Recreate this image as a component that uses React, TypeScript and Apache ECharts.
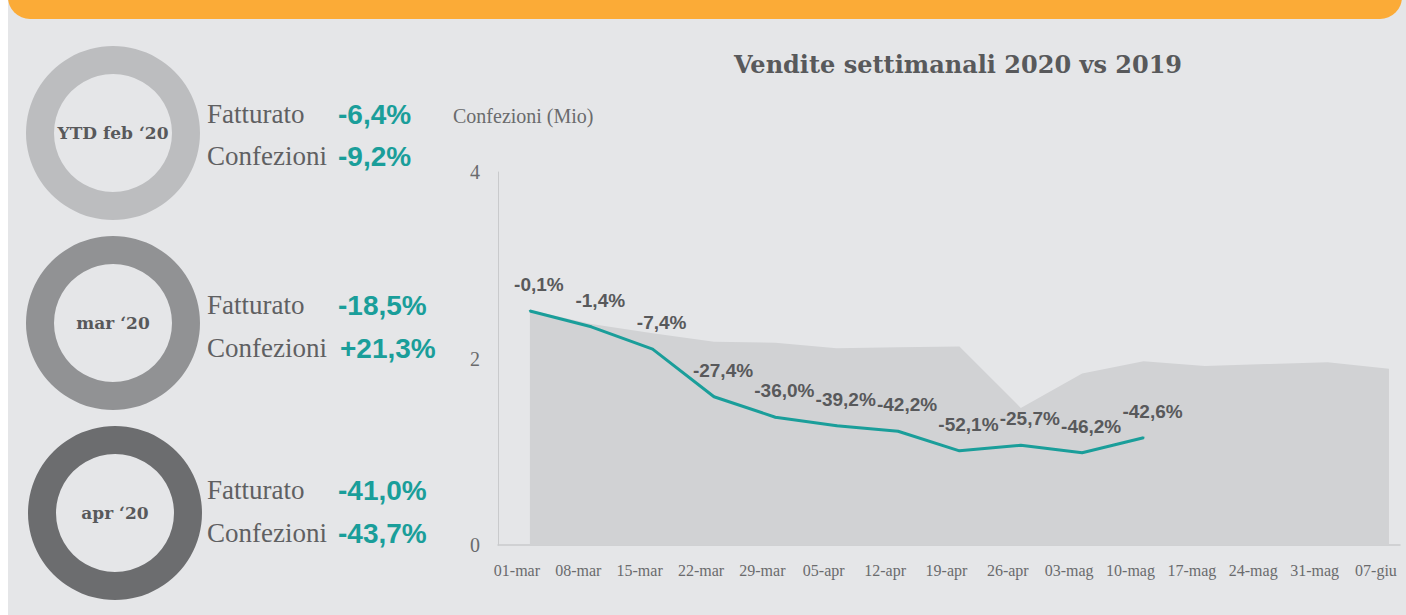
import React, { useEffect, useRef } from "react";
import * as echarts from "echarts";

// ---- data ----
const periods = ["YTD feb \u201820", "mar \u201820", "apr \u201820"];
const fatturatoChange = ["-6,4%", "-18,5%", "-41,0%"];
const confezioniChange = ["-9,2%", "+21,3%", "-43,7%"];
const metricNames = ["Fatturato", "Confezioni"];

const weeks = [
  "01-mar", "08-mar", "15-mar", "22-mar", "29-mar", "05-apr", "12-apr", "19-apr",
  "26-apr", "03-mag", "10-mag", "17-mag", "24-mag", "31-mag", "07-giu",
];
const sales2019 = [2.52, 2.37, 2.27, 2.18, 2.17, 2.11, 2.12, 2.13, 1.47, 1.84, 1.97, 1.92, 1.94, 1.96, 1.89];
const sales2020 = [2.51, 2.34, 2.1, 1.59, 1.37, 1.28, 1.22, 1.01, 1.07, 0.99, 1.15];
const weeklyChange = ["-0,1%", "-1,4%", "-7,4%", "-27,4%", "-36,0%", "-39,2%", "-42,2%", "-52,1%", "-25,7%", "-46,2%", "-42,6%"];
const yTicks = { min: 0, max: 4, interval: 2 };

const chartTitle = "Vendite settimanali 2020 vs 2019";
const yAxisTitle = "Confezioni (Mio)";

// ---- styles / layout ----
const TEAL = "#1a9e9a";
const DARK = "#58595b";
const MID = "#6a6b6d";
const donutColors = ["#bcbdbf", "#919294", "#6c6d6f"];
const donutCenters: [number, number][] = [[113, 133], [113, 323], [115, 513]];
const rowMid = [[114, 156], [305, 348], [490, 533]];
const SERIF_LIGHT = '"Liberation Serif", "Times New Roman", serif';
const SERIF_BOLD = '"DejaVu Serif", serif';
const SANS_BOLD = '"Liberation Sans", Arial, sans-serif';

export default function App() {
  const ref = useRef<HTMLDivElement>(null);

  useEffect(() => {
    if (!ref.current) return;
    const chart = echarts.init(ref.current, undefined, { renderer: "svg" });

    const graphics: any[] = [
      { type: "rect", z: 0, shape: { x: 0, y: 0, width: 8, height: 615 }, style: { fill: "#ffffff" } },
      { type: "rect", z: 0, shape: { x: 8, y: -26, width: 1394, height: 45, r: [0, 0, 22, 22] }, style: { fill: "#fbab37" } },
      {
        type: "text", z: 10, x: 453, y: 116,
        style: { text: yAxisTitle, fontFamily: SERIF_LIGHT, fontSize: 20, fill: MID, verticalAlign: "middle", align: "left" },
      },
    ];
    periods.forEach((_, i) => {
      const values = [fatturatoChange[i], confezioniChange[i]];
      metricNames.forEach((m, j) => {
        graphics.push({
          type: "text", z: 10, x: 207, y: rowMid[i][j],
          style: { text: m, fontFamily: SERIF_LIGHT, fontSize: 27, fill: "#5f6062", verticalAlign: "middle", align: "left" },
        });
        graphics.push({
          type: "text", z: 10, x: values[j].startsWith("+") ? 340 : 338, y: rowMid[i][j],
          style: { text: values[j], fontFamily: SANS_BOLD, fontWeight: "bold", fontSize: 28, fill: TEAL, verticalAlign: "middle", align: "left" },
        });
      });
    });

    const pies = periods.map((p, i) => ({
      type: "pie",
      silent: true,
      center: donutCenters[i],
      radius: [59, 87],
      startAngle: 90,
      color: [donutColors[i]],
      label: {
        show: true,
        position: "center",
        formatter: "{b}",
        fontFamily: SERIF_BOLD,
        fontWeight: "bold",
        fontSize: 17,
        color: DARK,
      },
      labelLine: { show: false },
      emphasis: { disabled: true },
      data: [{ value: 1, name: p }],
    }));

    chart.setOption({
      animation: false,
      backgroundColor: "#e5e6e8",
      title: {
        text: chartTitle,
        left: 953,
        top: 47,
        textAlign: "center",
        textStyle: { fontFamily: SERIF_BOLD, fontWeight: "bold", fontSize: 24, color: DARK },
      },
      grid: { left: 498, right: 6, top: 172, bottom: 70 },
      xAxis: {
        type: "value",
        min: -0.52,
        max: 14.18,
        axisLine: { show: true, lineStyle: { color: "#c9cacc", width: 1.5 } },
        axisTick: { show: false },
        splitLine: { show: false },
        axisLabel: {
          customValues: weeks.map((_, i) => i),
          formatter: (v: number) => weeks[Math.round(v)] ?? "",
          fontFamily: SERIF_LIGHT,
          fontSize: 16,
          color: MID,
          margin: 17,
          padding: [0, 26, 0, 0],
        },
      },
      yAxis: {
        type: "value",
        min: yTicks.min,
        max: yTicks.max,
        interval: yTicks.interval,
        axisLine: { show: true, onZero: false, lineStyle: { color: "#c9cacc", width: 1 } },
        axisTick: { show: false },
        splitLine: { show: false },
        axisLabel: { fontFamily: SERIF_LIGHT, fontSize: 20, color: MID, margin: 18 },
      },
      graphic: graphics,
      series: [
        ...pies,
        {
          type: "line",
          name: "2019",
          z: 1,
          symbol: "none",
          lineStyle: { width: 0 },
          areaStyle: { color: "#d1d2d4", opacity: 1 },
          data: sales2019.map((v, i) => [i, v]),
          silent: true,
        },
        {
          type: "line",
          name: "2020",
          z: 3,
          symbol: "circle",
          symbolSize: 2,
          showSymbol: true,
          itemStyle: { color: TEAL },
          lineStyle: { color: TEAL, width: 3 },
          label: {
            show: true,
            position: "top",
            distance: 16,
            offset: [9, 0],
            formatter: (p: any) => weeklyChange[p.dataIndex],
            fontFamily: SANS_BOLD,
            fontWeight: "bold",
            fontSize: 19,
            color: DARK,
          },
          data: sales2020.map((v, i) => [i, v]),
          silent: true,
        },
      ],
    });

    return () => chart.dispose();
  }, []);

  return (
    <div
      ref={ref}
      style={{ position: "absolute", left: 0, top: 0, width: 1406, height: 615 }}
    />
  );
}
